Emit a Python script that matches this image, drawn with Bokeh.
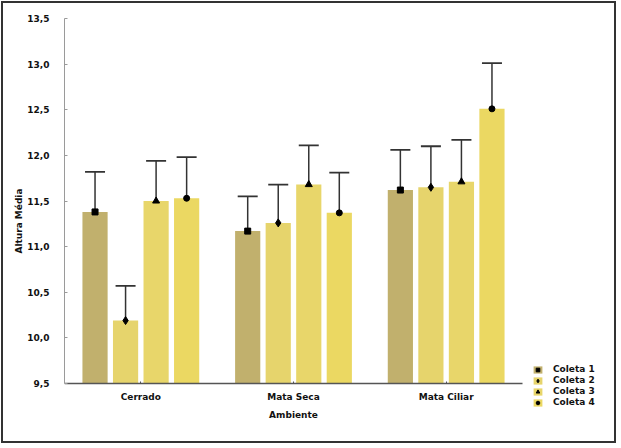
from bokeh.plotting import figure
from bokeh.models import (ColumnDataSource, Whisker, TeeHead, FixedTicker,
                          Legend, LegendItem, Range1d, Title)
from bokeh.embed import file_html
from bokeh.resources import INLINE

# Mean height per environment and collection, with error-bar limits
ambientes = ["Cerrado", "Mata Seca", "Mata Ciliar"]
coletas = ["Coleta 1", "Coleta 2", "Coleta 3", "Coleta 4"]

media_c1 = [11.38, 11.17, 11.62]
media_c2 = [10.19, 11.26, 11.65]
media_c3 = [11.50, 11.68, 11.71]
media_c4 = [11.53, 11.37, 12.51]

sup_c1 = [11.82, 11.55, 12.06]
sup_c2 = [10.57, 11.68, 12.10]
sup_c3 = [11.94, 12.11, 12.17]
sup_c4 = [11.98, 11.81, 13.01]

inf_c1 = [10.97, 10.82, 11.18]
inf_c2 = [9.84, 10.87, 11.22]
inf_c3 = [11.07, 11.24, 11.24]
inf_c4 = [11.09, 10.96, 11.99]

y_ticks = [9.5, 10.0, 10.5, 11.0, 11.5, 12.0, 12.5, 13.0, 13.5]
y_labels = ["9,5", "10,0", "10,5", "11,0", "11,5", "12,0", "12,5", "13,0", "13,5"]

medias = [media_c1, media_c2, media_c3, media_c4]
sups = [sup_c1, sup_c2, sup_c3, sup_c4]
infs = [inf_c1, inf_c2, inf_c3, inf_c4]
cores = ["#c1b06d", "#e6d46c", "#e8d66a", "#ebd862"]
marcadores = ["square", "diamond", "triangle", "circle"]
tamanhos = [6, 8, 7, 6]

FONT = "DejaVu Sans"
W, H = 615, 442

# Plot frame in canvas pixels; the data block (-0.5..2.5, 9.5..13.5) sits in
# its upper-left part, the rest holds the legend below/right of the axes.
ESQ, DIR, TOPO, BASE = 61, 605, 15, 420
PX_X = (519 - ESQ) / 3.0       # pixels per group
PX_Y = (380 - TOPO) / 4.0      # pixels per unit of height
x0, y1 = -0.5, 13.5
x1 = x0 + (DIR - ESQ) / PX_X
y0 = y1 - (BASE - TOPO) / PX_Y

p = figure(width=W, height=H, output_backend="svg", toolbar_location=None,
           x_range=Range1d(x0, x1), y_range=Range1d(y0, y1),
           min_border_left=ESQ, min_border_right=W - DIR, min_border_top=TOPO,
           min_border_bottom=H - BASE, outline_line_color=None,
           background_fill_color="white", border_fill_color="white")
p.styles = {"border": "2px solid #333", "margin": "1px"}
p.xgrid.visible = False
p.ygrid.visible = False

largura = 0.165
passo = 0.2
items = []
for k in range(4):
    xs = [i + (k - 1.5) * passo for i in range(len(ambientes))]
    src = ColumnDataSource(dict(x=xs, top=medias[k], upper=sups[k], lower=infs[k]))
    bar = p.vbar(x="x", top="top", bottom=9.5, width=largura, source=src,
                 fill_color=cores[k], line_color=None)
    w = Whisker(base="x", upper="upper", lower="lower", source=src,
                line_color="#333333", line_width=1.5,
                upper_head=TeeHead(size=20, line_color="#333333", line_width=1.8),
                lower_head=TeeHead(size=20, line_color="#333333", line_width=1.8))
    p.add_layout(w)
    pt = p.scatter(x="x", y="top", source=src, marker=marcadores[k],
                   size=tamanhos[k], fill_color="black", line_color="black")
    items.append(LegendItem(label=coletas[k], renderers=[bar, pt]))

legend = Legend(items=items, location=(468, BASE - 404), border_line_color=None,
                background_fill_alpha=0, padding=0, spacing=1, margin=0,
                glyph_width=11, glyph_height=9, label_height=9,
                label_standoff=10, label_text_font=FONT,
                label_text_font_size="9px", label_text_font_style="bold",
                label_text_color="#111111")
p.add_layout(legend, "center")

# y axis
p.yaxis.ticker = FixedTicker(ticks=y_ticks)
p.yaxis.major_label_overrides = dict(zip(y_ticks, y_labels))
p.yaxis.bounds = (9.5, 13.5)
p.yaxis.axis_line_color = "#9a9a9a"
p.yaxis.major_tick_line_color = "#9a9a9a"
p.yaxis.major_tick_in = 3
p.yaxis.major_tick_out = 0
p.yaxis.minor_tick_line_color = None
p.yaxis.major_label_standoff = 15

p.add_layout(Title(text="Altura Média", align="center", offset=20, standoff=2,
                   text_font=FONT, text_font_size="9px", text_font_style="bold",
                   text_color="#111111"), "left")

# x axis drawn at the base of the bars
p.xaxis.fixed_location = 9.5
p.xaxis.bounds = (-0.5, 2.5)
p.xaxis.ticker = FixedTicker(ticks=[0, 1, 2])
p.xaxis.major_label_overrides = {0: ambientes[0], 1: ambientes[1], 2: ambientes[2]}
p.xaxis.axis_label = "Ambiente"
p.xaxis.axis_line_color = "#555555"
p.xaxis.axis_line_width = 1.5
p.xaxis.major_tick_line_color = "#555555"
p.xaxis.major_tick_in = 2
p.xaxis.major_tick_out = 0
p.xaxis.minor_tick_line_color = None
p.xaxis.major_label_standoff = 8
p.xaxis.axis_label_standoff = 5

for ax in (p.xaxis, p.yaxis):
    ax.major_label_text_font = FONT
    ax.major_label_text_font_size = "9px"
    ax.major_label_text_font_style = "bold"
    ax.major_label_text_color = "#111111"
    ax.axis_label_text_font = FONT
    ax.axis_label_text_font_size = "9px"
    ax.axis_label_text_font_style = "bold"
    ax.axis_label_text_color = "#111111"

open("out.html", "w").write(file_html(p, INLINE))
